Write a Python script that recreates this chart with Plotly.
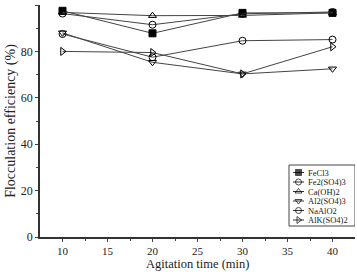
import plotly.graph_objects as go

time_min = [10, 20, 30, 40]
series_names = ["FeCl3", "Fe2(SO4)3", "Ca(OH)2", "Al2(SO4)3", "NaAlO2", "AlK(SO4)2"]
fecl3 = [97.5, 87.8, 96.6, 96.6]
fe2so43 = [96.3, 91.5, 96.2, 97.0]
caoh2 = [96.8, 95.4, 95.5, 96.6]
al2so43 = [88.0, 75.3, 70.3, 72.5]
naalo2 = [87.5, 77.5, 84.6, 85.1]
alkso42 = [80.0, 79.5, 70.3, 82.0]
values = [fecl3, fe2so43, caoh2, al2so43, naalo2, alkso42]
symbols = ["square", "circle-open", "triangle-up-open", "triangle-down-open", "circle-open", "triangle-right-open"]

FONT = "Liberation Serif"

fig = go.Figure()
for name, vals, sym in zip(series_names, values, symbols):
    fig.add_trace(go.Scatter(
        x=time_min, y=vals, name=name, mode="lines+markers", showlegend=False,
        line=dict(color="#444444", width=1),
        marker=dict(symbol=sym, size=7, color="black", line=dict(color="black", width=1)),
    ))

# Custom compact legend drawn on an overlay axis measured in pixels of the plot area
L_LEFT, L_RIGHT, L_TOP, L_BOTTOM = 289, 355, 165, 226
ROW0, ROW_STEP = 172.5, 9.5
fig.add_shape(type="rect", xref="x2", yref="y2", x0=L_LEFT, x1=L_RIGHT, y0=L_TOP, y1=L_BOTTOM,
              line=dict(color="#444444", width=1), fillcolor="white", layer="below")
for i, (name, sym) in enumerate(zip(series_names, symbols)):
    yy = ROW0 + i * ROW_STEP
    fig.add_trace(go.Scatter(
        x=[293, 298.5, 304], y=[yy, yy, yy], xaxis="x2", yaxis="y2", showlegend=False,
        mode="lines+markers", line=dict(color="#333333", width=1),
        marker=dict(symbol=sym, size=[0, 6, 0], color="black", line=dict(color="black", width=1)),
        hoverinfo="skip",
    ))
    fig.add_annotation(x=306, y=yy, xref="x2", yref="y2", text=name, showarrow=False,
                       xanchor="left", yanchor="middle", font=dict(size=8.5, family=FONT, color="#222222"))

# x-axis title placed as annotation to keep it clear of the tick labels
fig.add_annotation(x=0.5, y=-35 / 232, xref="paper", yref="paper", text="Agitation time (min)",
                   showarrow=False, xanchor="center", yanchor="bottom", borderpad=0,
                   font=dict(size=12.5, family=FONT, color="#222222"))

fig.update_layout(
    width=357, height=272,
    margin=dict(l=40, r=2, t=5, b=35),
    paper_bgcolor="white", plot_bgcolor="white",
    font=dict(family=FONT, color="#222222", size=12),
    showlegend=False,
    xaxis=dict(range=[7.5, 42.5], tickvals=[10, 15, 20, 25, 30, 35, 40],
               ticks="outside", ticklen=3, showline=True, linecolor="#333333", linewidth=1.5,
               showgrid=False, zeroline=False, tickfont=dict(size=11), automargin=False,
               minor=dict(tickvals=[12.5, 17.5, 22.5, 27.5, 32.5, 37.5], ticks="outside", ticklen=2)),
    yaxis=dict(range=[0, 100], tickvals=[0, 20, 40, 60, 80, 100],
               ticks="outside", ticklen=3, showline=True, linecolor="#333333", linewidth=1.5,
               showgrid=False, zeroline=False, tickfont=dict(size=12), automargin=False,
               minor=dict(tickvals=[10, 30, 50, 70, 90], ticks="outside", ticklen=2),
               title=dict(text="Flocculation efficiency (%)", font=dict(size=14), standoff=2)),
    xaxis2=dict(overlaying="x", range=[40, 355], visible=False, fixedrange=True),
    yaxis2=dict(overlaying="y", range=[237, 5], visible=False, fixedrange=True),
)

fig.write_html("out.html")
